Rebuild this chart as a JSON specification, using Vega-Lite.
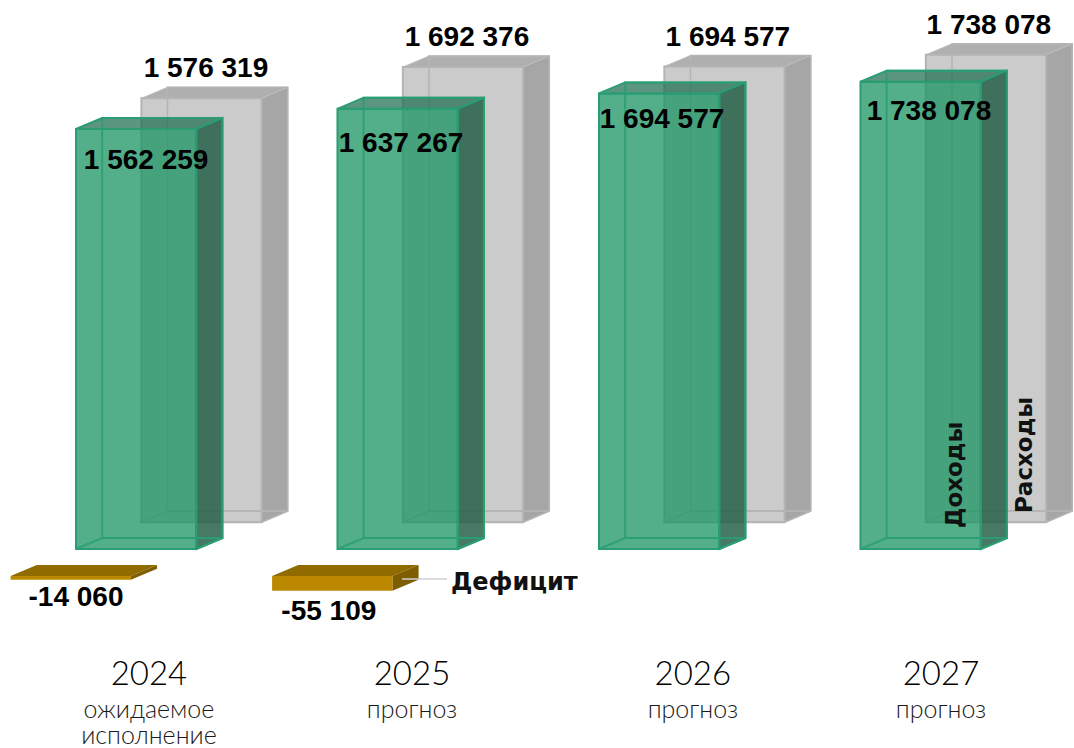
{"$schema":"https://vega.github.io/schema/vega-lite/v6.json","width":1074,"height":748,"autosize":{"type":"none"},"padding":0,"background":"white","view":{"stroke":null},
"datasets":{"boxes":[
{"series":"Расходы","face":"back","year":2024,"x":2024.35,"lo":141000,"hi":1717319},{"series":"Расходы","face":"back","year":2024,"x":2024.81,"lo":141000,"hi":1717319},
{"series":"Расходы","face":"bottom","year":2024,"x":2024.25,"lo":100000,"hi":100000},{"series":"Расходы","face":"bottom","year":2024,"x":2024.35,"lo":100000,"hi":141000},{"series":"Расходы","face":"bottom","year":2024,"x":2024.71,"lo":100000,"hi":141000},{"series":"Расходы","face":"bottom","year":2024,"x":2024.81,"lo":141000,"hi":141000},
{"series":"Расходы","face":"top","year":2024,"x":2024.25,"lo":1676319,"hi":1676319},{"series":"Расходы","face":"top","year":2024,"x":2024.35,"lo":1676319,"hi":1717319},{"series":"Расходы","face":"top","year":2024,"x":2024.71,"lo":1676319,"hi":1717319},{"series":"Расходы","face":"top","year":2024,"x":2024.81,"lo":1717319,"hi":1717319},
{"series":"Расходы","face":"side","year":2024,"x":2024.71,"lo":100000,"hi":1676319},{"series":"Расходы","face":"side","year":2024,"x":2024.81,"lo":141000,"hi":1717319},
{"series":"Расходы","face":"front","year":2024,"x":2024.25,"lo":100000,"hi":1676319},{"series":"Расходы","face":"front","year":2024,"x":2024.71,"lo":100000,"hi":1676319},

{"series":"Расходы","face":"back","year":2025,"x":2025.35,"lo":141000,"hi":1833376},{"series":"Расходы","face":"back","year":2025,"x":2025.81,"lo":141000,"hi":1833376},
{"series":"Расходы","face":"bottom","year":2025,"x":2025.25,"lo":100000,"hi":100000},{"series":"Расходы","face":"bottom","year":2025,"x":2025.35,"lo":100000,"hi":141000},{"series":"Расходы","face":"bottom","year":2025,"x":2025.71,"lo":100000,"hi":141000},{"series":"Расходы","face":"bottom","year":2025,"x":2025.81,"lo":141000,"hi":141000},
{"series":"Расходы","face":"top","year":2025,"x":2025.25,"lo":1792376,"hi":1792376},{"series":"Расходы","face":"top","year":2025,"x":2025.35,"lo":1792376,"hi":1833376},{"series":"Расходы","face":"top","year":2025,"x":2025.71,"lo":1792376,"hi":1833376},{"series":"Расходы","face":"top","year":2025,"x":2025.81,"lo":1833376,"hi":1833376},
{"series":"Расходы","face":"side","year":2025,"x":2025.71,"lo":100000,"hi":1792376},{"series":"Расходы","face":"side","year":2025,"x":2025.81,"lo":141000,"hi":1833376},
{"series":"Расходы","face":"front","year":2025,"x":2025.25,"lo":100000,"hi":1792376},{"series":"Расходы","face":"front","year":2025,"x":2025.71,"lo":100000,"hi":1792376},

{"series":"Расходы","face":"back","year":2026,"x":2026.35,"lo":141000,"hi":1835577},{"series":"Расходы","face":"back","year":2026,"x":2026.81,"lo":141000,"hi":1835577},
{"series":"Расходы","face":"bottom","year":2026,"x":2026.25,"lo":100000,"hi":100000},{"series":"Расходы","face":"bottom","year":2026,"x":2026.35,"lo":100000,"hi":141000},{"series":"Расходы","face":"bottom","year":2026,"x":2026.71,"lo":100000,"hi":141000},{"series":"Расходы","face":"bottom","year":2026,"x":2026.81,"lo":141000,"hi":141000},
{"series":"Расходы","face":"top","year":2026,"x":2026.25,"lo":1794577,"hi":1794577},{"series":"Расходы","face":"top","year":2026,"x":2026.35,"lo":1794577,"hi":1835577},{"series":"Расходы","face":"top","year":2026,"x":2026.71,"lo":1794577,"hi":1835577},{"series":"Расходы","face":"top","year":2026,"x":2026.81,"lo":1835577,"hi":1835577},
{"series":"Расходы","face":"side","year":2026,"x":2026.71,"lo":100000,"hi":1794577},{"series":"Расходы","face":"side","year":2026,"x":2026.81,"lo":141000,"hi":1835577},
{"series":"Расходы","face":"front","year":2026,"x":2026.25,"lo":100000,"hi":1794577},{"series":"Расходы","face":"front","year":2026,"x":2026.71,"lo":100000,"hi":1794577},

{"series":"Расходы","face":"back","year":2027,"x":2027.35,"lo":141000,"hi":1879078},{"series":"Расходы","face":"back","year":2027,"x":2027.81,"lo":141000,"hi":1879078},
{"series":"Расходы","face":"bottom","year":2027,"x":2027.25,"lo":100000,"hi":100000},{"series":"Расходы","face":"bottom","year":2027,"x":2027.35,"lo":100000,"hi":141000},{"series":"Расходы","face":"bottom","year":2027,"x":2027.71,"lo":100000,"hi":141000},{"series":"Расходы","face":"bottom","year":2027,"x":2027.81,"lo":141000,"hi":141000},
{"series":"Расходы","face":"top","year":2027,"x":2027.25,"lo":1838078,"hi":1838078},{"series":"Расходы","face":"top","year":2027,"x":2027.35,"lo":1838078,"hi":1879078},{"series":"Расходы","face":"top","year":2027,"x":2027.71,"lo":1838078,"hi":1879078},{"series":"Расходы","face":"top","year":2027,"x":2027.81,"lo":1879078,"hi":1879078},
{"series":"Расходы","face":"side","year":2027,"x":2027.71,"lo":100000,"hi":1838078},{"series":"Расходы","face":"side","year":2027,"x":2027.81,"lo":141000,"hi":1879078},
{"series":"Расходы","face":"front","year":2027,"x":2027.25,"lo":100000,"hi":1838078},{"series":"Расходы","face":"front","year":2027,"x":2027.71,"lo":100000,"hi":1838078},

{"series":"Доходы","face":"back","year":2024,"x":2024.1,"lo":41000,"hi":1603259},{"series":"Доходы","face":"back","year":2024,"x":2024.56,"lo":41000,"hi":1603259},
{"series":"Доходы","face":"bottom","year":2024,"x":2024,"lo":0,"hi":0},{"series":"Доходы","face":"bottom","year":2024,"x":2024.1,"lo":0,"hi":41000},{"series":"Доходы","face":"bottom","year":2024,"x":2024.46,"lo":0,"hi":41000},{"series":"Доходы","face":"bottom","year":2024,"x":2024.56,"lo":41000,"hi":41000},
{"series":"Доходы","face":"top","year":2024,"x":2024,"lo":1562259,"hi":1562259},{"series":"Доходы","face":"top","year":2024,"x":2024.1,"lo":1562259,"hi":1603259},{"series":"Доходы","face":"top","year":2024,"x":2024.46,"lo":1562259,"hi":1603259},{"series":"Доходы","face":"top","year":2024,"x":2024.56,"lo":1603259,"hi":1603259},
{"series":"Доходы","face":"side","year":2024,"x":2024.46,"lo":0,"hi":1562259},{"series":"Доходы","face":"side","year":2024,"x":2024.56,"lo":41000,"hi":1603259},
{"series":"Доходы","face":"front","year":2024,"x":2024,"lo":0,"hi":1562259},{"series":"Доходы","face":"front","year":2024,"x":2024.46,"lo":0,"hi":1562259},

{"series":"Доходы","face":"back","year":2025,"x":2025.1,"lo":41000,"hi":1678267},{"series":"Доходы","face":"back","year":2025,"x":2025.56,"lo":41000,"hi":1678267},
{"series":"Доходы","face":"bottom","year":2025,"x":2025,"lo":0,"hi":0},{"series":"Доходы","face":"bottom","year":2025,"x":2025.1,"lo":0,"hi":41000},{"series":"Доходы","face":"bottom","year":2025,"x":2025.46,"lo":0,"hi":41000},{"series":"Доходы","face":"bottom","year":2025,"x":2025.56,"lo":41000,"hi":41000},
{"series":"Доходы","face":"top","year":2025,"x":2025,"lo":1637267,"hi":1637267},{"series":"Доходы","face":"top","year":2025,"x":2025.1,"lo":1637267,"hi":1678267},{"series":"Доходы","face":"top","year":2025,"x":2025.46,"lo":1637267,"hi":1678267},{"series":"Доходы","face":"top","year":2025,"x":2025.56,"lo":1678267,"hi":1678267},
{"series":"Доходы","face":"side","year":2025,"x":2025.46,"lo":0,"hi":1637267},{"series":"Доходы","face":"side","year":2025,"x":2025.56,"lo":41000,"hi":1678267},
{"series":"Доходы","face":"front","year":2025,"x":2025,"lo":0,"hi":1637267},{"series":"Доходы","face":"front","year":2025,"x":2025.46,"lo":0,"hi":1637267},

{"series":"Доходы","face":"back","year":2026,"x":2026.1,"lo":41000,"hi":1735577},{"series":"Доходы","face":"back","year":2026,"x":2026.56,"lo":41000,"hi":1735577},
{"series":"Доходы","face":"bottom","year":2026,"x":2026,"lo":0,"hi":0},{"series":"Доходы","face":"bottom","year":2026,"x":2026.1,"lo":0,"hi":41000},{"series":"Доходы","face":"bottom","year":2026,"x":2026.46,"lo":0,"hi":41000},{"series":"Доходы","face":"bottom","year":2026,"x":2026.56,"lo":41000,"hi":41000},
{"series":"Доходы","face":"top","year":2026,"x":2026,"lo":1694577,"hi":1694577},{"series":"Доходы","face":"top","year":2026,"x":2026.1,"lo":1694577,"hi":1735577},{"series":"Доходы","face":"top","year":2026,"x":2026.46,"lo":1694577,"hi":1735577},{"series":"Доходы","face":"top","year":2026,"x":2026.56,"lo":1735577,"hi":1735577},
{"series":"Доходы","face":"side","year":2026,"x":2026.46,"lo":0,"hi":1694577},{"series":"Доходы","face":"side","year":2026,"x":2026.56,"lo":41000,"hi":1735577},
{"series":"Доходы","face":"front","year":2026,"x":2026,"lo":0,"hi":1694577},{"series":"Доходы","face":"front","year":2026,"x":2026.46,"lo":0,"hi":1694577},

{"series":"Доходы","face":"back","year":2027,"x":2027.1,"lo":41000,"hi":1779078},{"series":"Доходы","face":"back","year":2027,"x":2027.56,"lo":41000,"hi":1779078},
{"series":"Доходы","face":"bottom","year":2027,"x":2027,"lo":0,"hi":0},{"series":"Доходы","face":"bottom","year":2027,"x":2027.1,"lo":0,"hi":41000},{"series":"Доходы","face":"bottom","year":2027,"x":2027.46,"lo":0,"hi":41000},{"series":"Доходы","face":"bottom","year":2027,"x":2027.56,"lo":41000,"hi":41000},
{"series":"Доходы","face":"top","year":2027,"x":2027,"lo":1738078,"hi":1738078},{"series":"Доходы","face":"top","year":2027,"x":2027.1,"lo":1738078,"hi":1779078},{"series":"Доходы","face":"top","year":2027,"x":2027.46,"lo":1738078,"hi":1779078},{"series":"Доходы","face":"top","year":2027,"x":2027.56,"lo":1779078,"hi":1779078},
{"series":"Доходы","face":"side","year":2027,"x":2027.46,"lo":0,"hi":1738078},{"series":"Доходы","face":"side","year":2027,"x":2027.56,"lo":41000,"hi":1779078},
{"series":"Доходы","face":"front","year":2027,"x":2027,"lo":0,"hi":1738078},{"series":"Доходы","face":"front","year":2027,"x":2027.46,"lo":0,"hi":1738078},

{"series":"Дефицит","face":"top","year":2024,"x":2023.75,"lo":-100000,"hi":-100000},{"series":"Дефицит","face":"top","year":2024,"x":2023.85,"lo":-100000,"hi":-59000},{"series":"Дефицит","face":"top","year":2024,"x":2024.21,"lo":-100000,"hi":-59000},{"series":"Дефицит","face":"top","year":2024,"x":2024.31,"lo":-59000,"hi":-59000},
{"series":"Дефицит","face":"side","year":2024,"x":2024.21,"lo":-114060,"hi":-100000},{"series":"Дефицит","face":"side","year":2024,"x":2024.31,"lo":-73060,"hi":-59000},
{"series":"Дефицит","face":"front","year":2024,"x":2023.75,"lo":-114060,"hi":-100000},{"series":"Дефицит","face":"front","year":2024,"x":2024.21,"lo":-114060,"hi":-100000},

{"series":"Дефицит","face":"top","year":2025,"x":2024.75,"lo":-100000,"hi":-100000},{"series":"Дефицит","face":"top","year":2025,"x":2024.85,"lo":-100000,"hi":-59000},{"series":"Дефицит","face":"top","year":2025,"x":2025.21,"lo":-100000,"hi":-59000},{"series":"Дефицит","face":"top","year":2025,"x":2025.31,"lo":-59000,"hi":-59000},
{"series":"Дефицит","face":"side","year":2025,"x":2025.21,"lo":-155109,"hi":-100000},{"series":"Дефицит","face":"side","year":2025,"x":2025.31,"lo":-114109,"hi":-59000},
{"series":"Дефицит","face":"front","year":2025,"x":2024.75,"lo":-155109,"hi":-100000},{"series":"Дефицит","face":"front","year":2025,"x":2025.21,"lo":-155109,"hi":-100000}
],
"labels":[
{"kind":"value","label":"1 576 319","x":2024.497,"y":1789108},
{"kind":"value","label":"1 692 376","x":2025.495,"y":1904397},
{"kind":"value","label":"1 694 577","x":2026.493,"y":1904397},
{"kind":"value","label":"1 738 078","x":2027.491,"y":1949025},
{"kind":"value","label":"1 562 259","x":2024.268,"y":1446960},
{"kind":"value","label":"1 637 267","x":2025.243,"y":1510183},
{"kind":"value","label":"1 694 577","x":2026.241,"y":1599439},
{"kind":"value","label":"1 738 078","x":2027.262,"y":1629191},
{"kind":"value","label":"-14 060","x":2024.0,"y":-178243},
{"kind":"value","label":"-55 109","x":2024.967,"y":-230309},
{"kind":"year","label":"2024","x":2024.279,"y":-468325},
{"kind":"year","label":"2025","x":2025.285,"y":-468325},
{"kind":"year","label":"2026","x":2026.359,"y":-468325},
{"kind":"year","label":"2027","x":2027.308,"y":-468325},
{"kind":"note","label":"ожидаемое","x":2024.279,"y":-598490},
{"kind":"note","label":"исполнение","x":2024.279,"y":-695000},
{"kind":"note","label":"прогноз","x":2025.285,"y":-598490},
{"kind":"note","label":"прогноз","x":2026.359,"y":-598490},
{"kind":"note","label":"прогноз","x":2027.308,"y":-598490},
{"kind":"legend","label":"Дефицит","x":2025.434,"y":-126177},
{"kind":"vertical","label":"Доходы","x":2027.361,"y":275475},
{"kind":"vertical","label":"Расходы","x":2027.629,"y":349855}
],
"leader":[{"x":2025.247,"x2":2025.419,"y":-111301}]},
"layer":[
{"data":{"name":"boxes"},
"encoding":{"x":{"field":"x","type":"quantitative","scale":{"domain":[2023.7094,2027.8166],"nice":false,"zero":false},"axis":null},"y":{"field":"lo","type":"quantitative","scale":{"domain":[-740000,2042000],"nice":false,"zero":false},"axis":null},"y2":{"field":"hi"},"detail":{"field":"year"}},
"layer":[
{"transform":[{"filter":"datum.series=='Расходы' && datum.face=='top'"}],"mark":{"type":"area","orient":"vertical","fill":"#afafaf","stroke":"#bdbdbd","strokeWidth":1}},
{"transform":[{"filter":"datum.series=='Расходы' && datum.face=='side'"}],"mark":{"type":"area","orient":"vertical","fill":"#a6a6a6","stroke":"#bdbdbd","strokeWidth":1}},
{"transform":[{"filter":"datum.series=='Расходы' && datum.face=='front'"}],"mark":{"type":"area","orient":"vertical","fill":"#cbcbcb","stroke":"#b4b4b4","strokeWidth":2}},
{"transform":[{"filter":"datum.series=='Расходы' && datum.face=='back'"}],"mark":{"type":"area","orient":"vertical","fill":"#000000","fillOpacity":0,"stroke":"#b4b4b4","strokeWidth":1.5}},
{"transform":[{"filter":"datum.series=='Расходы' && datum.face=='bottom'"}],"mark":{"type":"area","orient":"vertical","fill":"#000000","fillOpacity":0,"stroke":"#b4b4b4","strokeWidth":1.5}},
{"transform":[{"filter":"datum.series=='Доходы' && datum.face=='top'"}],"mark":{"type":"area","orient":"vertical","fill":"#1d6e4f","fillOpacity":0.72,"stroke":"#2a9d73","strokeWidth":2}},
{"transform":[{"filter":"datum.series=='Доходы' && datum.face=='side'"}],"mark":{"type":"area","orient":"vertical","fill":"#1f5c43","fillOpacity":0.82,"stroke":"#2a9d73","strokeWidth":2}},
{"transform":[{"filter":"datum.series=='Доходы' && datum.face=='front'"}],"mark":{"type":"area","orient":"vertical","fill":"#199363","fillOpacity":0.75,"stroke":"#2a9d73","strokeWidth":2}},
{"transform":[{"filter":"datum.series=='Доходы' && datum.face=='back'"}],"mark":{"type":"area","orient":"vertical","fill":"#000000","fillOpacity":0,"stroke":"#2a9d73","strokeWidth":2,"strokeOpacity":0.85}},
{"transform":[{"filter":"datum.series=='Доходы' && datum.face=='bottom'"}],"mark":{"type":"area","orient":"vertical","fill":"#000000","fillOpacity":0,"stroke":"#2a9d73","strokeWidth":2,"strokeOpacity":0.85}},
{"transform":[{"filter":"datum.series=='Дефицит' && datum.face=='top'"}],"mark":{"type":"area","orient":"vertical","fill":"#8f6b00"}},
{"transform":[{"filter":"datum.series=='Дефицит' && datum.face=='side'"}],"mark":{"type":"area","orient":"vertical","fill":"#7d5e00"}},
{"transform":[{"filter":"datum.series=='Дефицит' && datum.face=='front'"}],"mark":{"type":"area","orient":"vertical","fill":"#bb8800"}}
]},
{"data":{"name":"leader"},"mark":{"type":"rule","stroke":"#d0d0d0","strokeWidth":1.5},"encoding":{"x":{"field":"x","type":"quantitative"},"x2":{"field":"x2"},"y":{"field":"y","type":"quantitative"}}},
{"data":{"name":"labels"},
"encoding":{"x":{"field":"x","type":"quantitative"},"y":{"field":"y","type":"quantitative"},"text":{"field":"label"}},
"layer":[
{"transform":[{"filter":"datum.kind=='value'"}],"mark":{"type":"text","font":"Liberation Sans","fontWeight":"bold","fontSize":28,"fill":"#000000","align":"center","baseline":"middle","dy":1}},
{"transform":[{"filter":"datum.kind=='year'"}],"mark":{"type":"text","font":"Lato","fontWeight":300,"fontSize":33,"fill":"#000000","align":"center","baseline":"middle"}},
{"transform":[{"filter":"datum.kind=='note'"}],"mark":{"type":"text","font":"Lato","fontWeight":300,"fontSize":25,"fill":"#1a1a1a","align":"center","baseline":"middle"}},
{"transform":[{"filter":"datum.kind=='legend'"}],"mark":{"type":"text","font":"DejaVu Sans","fontWeight":"bold","fontSize":24,"fill":"#111111","align":"left","baseline":"middle"}},
{"transform":[{"filter":"datum.kind=='vertical'"}],"mark":{"type":"text","font":"DejaVu Sans","fontWeight":"bold","fontSize":23,"fill":"#111111","align":"center","baseline":"middle","angle":270}}
]}
]}
